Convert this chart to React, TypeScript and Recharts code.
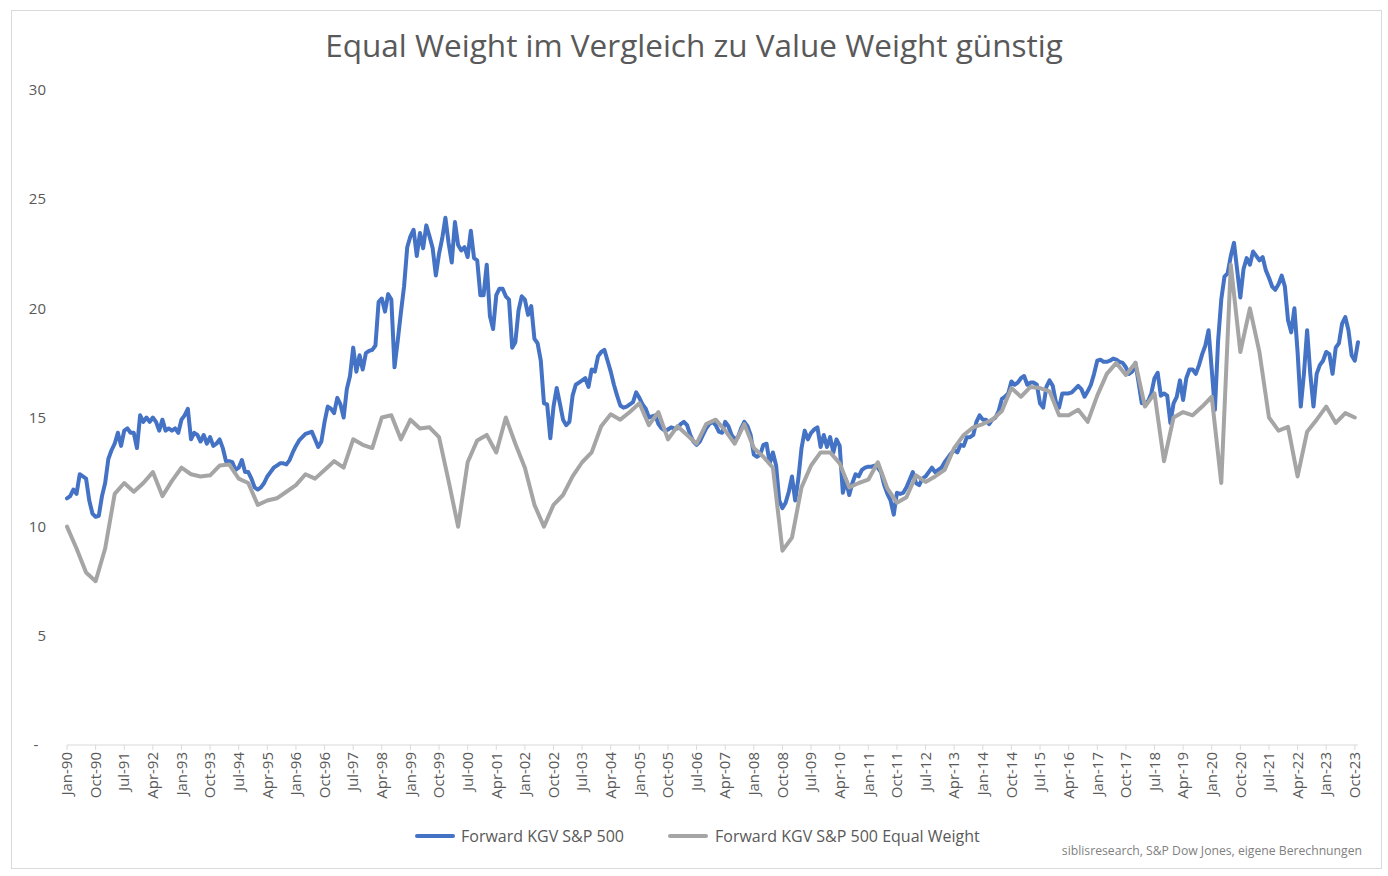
import React from 'react';
import { LineChart, Line, XAxis, YAxis } from 'recharts';

const FONT = '"Open Sans", Lato, sans-serif';
const TEXT_COLOR = '#595959';

const MONTH_NAMES = ['Jan', 'Feb', 'Mar', 'Apr', 'May', 'Jun', 'Jul', 'Aug', 'Sep', 'Oct', 'Nov', 'Dec'];
const START_YEAR = 1990;

// Forward KGV S&P 500 (monthly, Jan-90 .. Nov-23)
const forwardPE = [
  11.3, 11.4, 11.7, 11.5, 12.4, 12.3, 12.2, 11.2, 10.6, 10.45, 10.5, 11.4,
  12.0, 13.1, 13.5, 13.8, 14.3, 13.7, 14.4, 14.5, 14.3, 14.3, 13.6, 15.1,
  14.8, 15.0, 14.8, 15.0, 14.8, 14.4, 14.9, 14.4, 14.5, 14.4, 14.5, 14.3,
  14.9, 15.1, 15.4, 14.0, 14.3, 14.2, 13.9, 14.2, 13.8, 14.1, 13.7, 13.8,
  14.0, 13.6, 13.0, 13.0, 12.95, 12.6, 12.7, 13.05, 12.5, 12.5, 12.2, 11.8,
  11.7, 11.8, 12.0, 12.3, 12.5, 12.7, 12.8, 12.9, 12.9, 12.85, 13.05, 13.4,
  13.7, 13.95, 14.1, 14.25, 14.3, 14.35, 14.0, 13.65, 13.9, 14.8, 15.5, 15.4,
  15.2, 15.9, 15.6, 15.0, 16.3, 16.9, 18.2, 17.1, 17.85, 17.2, 17.95, 18.05,
  18.1, 18.3, 20.3, 20.45, 19.85, 20.65, 20.4, 17.3, 18.5, 19.8, 21.0, 22.8,
  23.3, 23.6, 22.4, 23.45, 22.75, 23.8, 23.3, 22.75, 21.5, 22.5, 23.2, 24.15,
  23.0, 22.1, 23.95, 22.9, 22.65, 22.8, 22.35, 23.55, 22.3, 22.2, 20.6, 20.6,
  22.0, 19.65, 19.05, 20.6, 20.9, 20.9, 20.55, 20.4, 18.2, 18.45, 19.9, 20.55,
  20.4, 19.7, 20.1, 18.6, 18.4, 17.6, 15.65, 15.6, 14.05, 15.5, 16.35, 15.65,
  14.9, 14.65, 14.8, 16.0, 16.5, 16.6, 16.7, 16.8, 16.4, 17.2, 17.1, 17.8,
  18.0, 18.1, 17.6, 17.1, 16.5, 16.0, 15.55, 15.45, 15.5, 15.6, 15.7, 16.15,
  15.9, 15.6, 15.4, 15.0, 15.05, 15.1, 14.7, 14.5, 14.4, 14.45, 14.55, 14.5,
  14.5, 14.7, 14.8, 14.65, 14.2, 13.9, 13.75, 13.9, 14.2, 14.5, 14.7, 14.8,
  14.65, 14.35, 14.3, 14.8, 14.6, 14.2, 14.0, 14.1, 14.5, 14.8, 14.6, 14.2,
  13.3, 13.2, 13.3, 13.75, 13.8, 12.9, 13.4, 12.8, 11.2, 10.85, 11.1, 11.6,
  12.3, 11.2, 12.2, 13.6, 14.4, 14.0, 14.3, 14.45, 14.55, 13.65, 14.2, 13.65,
  14.1, 13.4, 14.0, 13.7, 11.55, 12.15, 11.45, 12.0, 12.4, 12.3, 12.6, 12.7,
  12.75, 12.75, 12.8, 12.7, 12.5, 11.9, 11.5, 11.2, 10.55, 11.55, 11.5, 11.55,
  11.8, 12.15, 12.5, 12.0, 11.9, 12.2, 12.3, 12.5, 12.7, 12.5, 12.6, 12.7,
  12.95, 13.15, 13.35, 13.5, 13.4, 13.75, 13.7, 14.1, 14.1, 14.2, 14.8, 15.1,
  14.9, 14.9, 14.7, 14.9, 15.0, 15.3, 15.85, 15.95, 16.1, 16.65, 16.5, 16.6,
  16.8, 16.9, 16.5, 16.6, 16.6, 16.5, 15.65, 15.45, 16.4, 16.7, 16.45, 15.7,
  15.45, 16.1, 16.1, 16.1, 16.15, 16.3, 16.45, 16.3, 15.95, 16.2, 16.5, 17.0,
  17.6, 17.65, 17.55, 17.55, 17.6, 17.7, 17.65, 17.55, 17.5, 17.3, 17.0, 17.1,
  17.5, 16.6, 15.65, 15.65, 15.75, 16.1, 16.8, 17.05, 16.0, 16.1, 16.0, 14.75,
  15.65, 15.95, 16.7, 15.8, 16.8, 17.2, 17.2, 17.0, 17.4, 17.9, 18.3, 19.0,
  17.2, 15.35, 18.5, 20.4, 21.45, 21.6, 22.4, 23.0, 21.75, 20.5, 21.8, 22.3,
  22.0, 22.6, 22.4, 22.2, 22.35, 21.75, 21.4, 21.0, 20.85, 21.1, 21.5, 21.0,
  19.45, 18.9, 20.0, 18.0, 15.5, 17.0, 19.0, 17.0, 15.5, 17.0, 17.4, 17.6,
  18.0, 17.9, 17.0, 18.2, 18.4, 19.3, 19.6, 19.0, 17.85, 17.6, 18.45,
];

// Forward KGV S&P 500 Equal Weight (quarterly, Jan-90 .. Oct-23)
const forwardPEEqual = [
  10.0, 9.0, 7.9, 7.5, 9.0, 11.5, 12.0, 11.6, 12.0, 12.5, 11.4, 12.1,
  12.7, 12.4, 12.3, 12.35, 12.8, 12.85, 12.2, 12.0, 11.0, 11.2, 11.3, 11.6,
  11.9, 12.4, 12.2, 12.6, 13.0, 12.7, 14.0, 13.75, 13.6, 15.0, 15.1, 14.0,
  14.9, 14.5, 14.55, 14.1, 12.1, 10.0, 12.95, 13.95, 14.2, 13.4, 15.0, 13.8,
  12.7, 11.0, 10.0, 11.0, 11.45, 12.3, 12.95, 13.4, 14.6, 15.15, 14.9, 15.25,
  15.65, 14.65, 15.25, 14.0, 14.6, 14.2, 13.8, 14.7, 14.9, 14.4, 13.8, 14.7,
  13.6, 13.2, 12.7, 8.9, 9.5, 11.8, 12.8, 13.4, 13.4, 12.9, 11.8, 12.0,
  12.15, 12.95, 11.75, 11.1, 11.35, 12.35, 12.05, 12.3, 12.6, 13.6, 14.2, 14.55,
  14.7, 14.9, 15.3, 16.35, 15.95, 16.4, 16.35, 16.2, 15.1, 15.1, 15.35, 14.8,
  16.0, 17.0, 17.5, 16.95, 17.5, 15.5, 16.1, 13.0, 15.0, 15.25, 15.1, 15.5,
  15.95, 12.0, 22.0, 18.0, 20.0, 18.0, 15.0, 14.4, 14.57, 12.3, 14.35, 14.9,
  15.5, 14.75, 15.2, 15.0,
];

const yTicks = [0, 5, 10, 15, 20, 25, 30];

const SERIES_NAMES = ['Forward KGV S&P 500', 'Forward KGV S&P 500 Equal Weight'];
const SOURCE = 'siblisresearch, S&P Dow Jones, eigene Berechnungen';
const TITLE = 'Equal Weight im Vergleich zu Value Weight günstig';

const data = forwardPE.map((v, i) => {
  const year = START_YEAR + Math.floor(i / 12);
  const label = `${MONTH_NAMES[i % 12]}-${String(year % 100).padStart(2, '0')}`;
  const q = i / 3;
  const ew = i % 3 === 0 && q < forwardPEEqual.length ? forwardPEEqual[q] : null;
  return { label, sp500: v, ew };
});

const XTick = (props: any) => {
  const { x, y, payload } = props;
  return (
    <g transform={`translate(${x},${y})`}>
      <text
        transform="rotate(-90)"
        textAnchor="end"
        dy="0.35em"
        fill={TEXT_COLOR}
        fontSize={15}
        fontFamily={FONT}
      >
        {payload.value}
      </text>
    </g>
  );
};

export default function App() {
  return (
    <div
      style={{
        position: 'absolute',
        left: 0,
        top: 0,
        width: 1388,
        height: 876,
        background: '#ffffff',
        fontFamily: FONT,
        overflow: 'hidden',
      }}
    >
      <div
        style={{
          position: 'absolute',
          left: 11,
          top: 10,
          width: 1369,
          height: 857,
          border: '1px solid #d9d9d9',
        }}
      />
      <div
        style={{
          position: 'absolute',
          left: 0,
          top: 23,
          width: 1388,
          textAlign: 'center',
          fontSize: 31.5,
          color: TEXT_COLOR,
          lineHeight: '44px',
        }}
      >
        {TITLE}
      </div>
      <div style={{ position: 'absolute', left: 0, top: 0 }}>
        <LineChart
          width={1388}
          height={876}
          data={data}
          margin={{ top: 90, right: 30, bottom: 71, left: 27 }}
        >
          <XAxis
            dataKey="label"
            interval={8}
            tick={<XTick />}
            tickSize={5}
            tickMargin={2}
            height={60}
            axisLine={{ stroke: '#d9d9d9', strokeWidth: 1 }}
            tickLine={{ stroke: '#d9d9d9', strokeWidth: 1 }}
          />
          <YAxis
            domain={[0, 30]}
            ticks={yTicks}
            width={40}
            axisLine={false}
            tickLine={false}
            tickSize={0}
            tickMargin={21}
            tickFormatter={(v: number) => (v === 0 ? '-\u00A0\u00A0' : String(v))}
            tick={{ fill: TEXT_COLOR, fontSize: 15, fontFamily: FONT }}
          />
          <Line
            type="linear"
            dataKey="sp500"
            stroke="#4472C4"
            strokeWidth={4}
            dot={false}
            strokeLinejoin="round"
            strokeLinecap="round"
            isAnimationActive={false}
          />
          <Line
            type="linear"
            dataKey="ew"
            stroke="#A5A5A5"
            strokeWidth={4}
            dot={false}
            connectNulls
            strokeLinejoin="round"
            strokeLinecap="round"
            isAnimationActive={false}
          />
        </LineChart>
      </div>
      <div style={{ position: 'absolute', left: 415, top: 834, width: 40, height: 4, background: '#4472C4', borderRadius: 2 }} />
      <div style={{ position: 'absolute', left: 461, top: 825, fontSize: 16, color: TEXT_COLOR, lineHeight: '22px', whiteSpace: 'nowrap' }}>
        {SERIES_NAMES[0]}
      </div>
      <div style={{ position: 'absolute', left: 668, top: 834, width: 40, height: 4, background: '#A5A5A5', borderRadius: 2 }} />
      <div style={{ position: 'absolute', left: 715, top: 825, fontSize: 16, color: TEXT_COLOR, lineHeight: '22px', whiteSpace: 'nowrap' }}>
        {SERIES_NAMES[1]}
      </div>
      <div
        style={{
          position: 'absolute',
          right: 26,
          top: 842,
          fontSize: 12.2,
          color: '#7f7f7f',
          lineHeight: '18px',
          whiteSpace: 'nowrap',
        }}
      >
        {SOURCE}
      </div>
    </div>
  );
}
